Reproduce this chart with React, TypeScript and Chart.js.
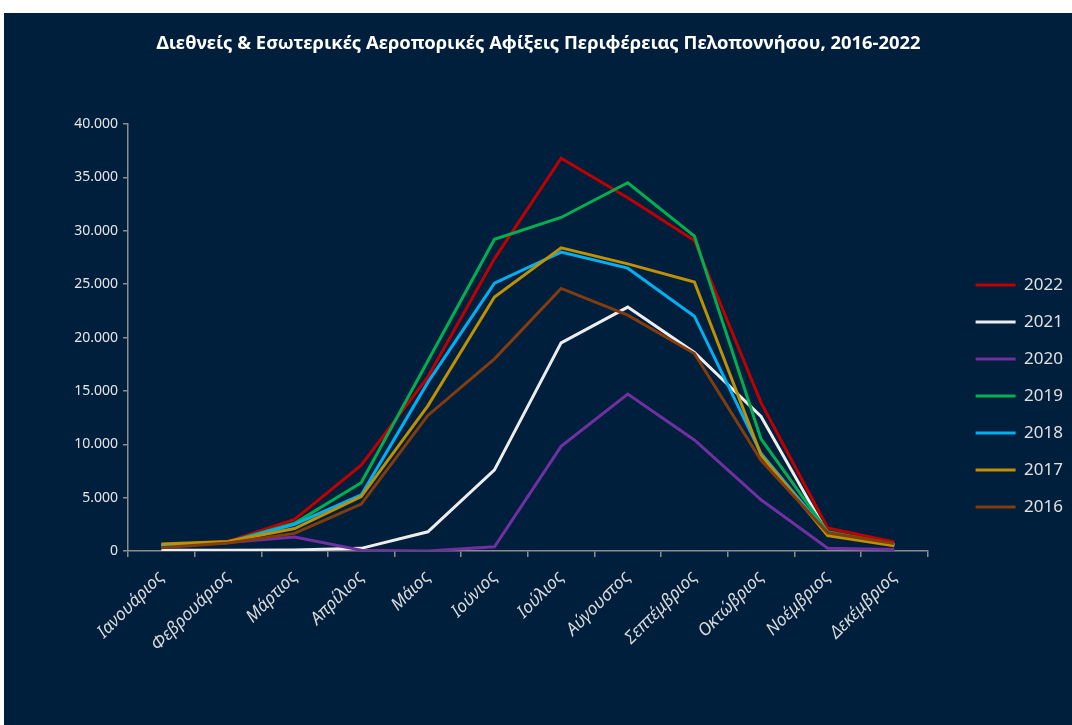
import React, { useEffect, useRef } from 'react';
import { Chart, registerables } from 'chart.js';
Chart.register(...registerables);

const months = ['Ιανουάριος', 'Φεβρουάριος', 'Μάρτιος', 'Απρίλιος', 'Μάιος', 'Ιούνιος', 'Ιούλιος', 'Αύγουστος', 'Σεπτέμβριος', 'Οκτώβριος', 'Νοέμβριος', 'Δεκέμβριος'];

const v2016 = [300, 750, 1650, 4400, 12700, 18000, 24600, 22100, 18500, 8500, 1700, 700];
const v2017 = [650, 900, 2100, 5100, 13600, 23800, 28400, 26900, 25200, 9000, 1450, 500];
const v2018 = [500, 800, 2500, 5250, 15800, 25100, 28000, 26500, 22000, 9150, 1650, 550];
const v2019 = [550, 850, 2600, 6400, 17800, 29200, 31250, 34500, 29500, 10500, 1800, 600];
const v2020 = [500, 800, 1300, 80, 0, 400, 9800, 14700, 10400, 4800, 250, 150];
const v2021 = [80, 60, 100, 250, 1800, 7600, 19500, 22850, 18600, 12600, 1600, 600];
const v2022 = [500, 900, 2950, 8050, 16300, 27400, 36800, 33100, 29100, 13900, 2150, 850];

const yearLabels = ['2016', '2017', '2018', '2019', '2020', '2021', '2022'];
const yearValues = [v2016, v2017, v2018, v2019, v2020, v2021, v2022];
const yearColors = ['#843C0C', '#BF9000', '#00B0F0', '#00B050', '#7030A0', '#EDEDED', '#C00000'];

const yTickStep = 5000;
const yMax = 40000;

const titleText = 'Διεθνείς & Εσωτερικές Αεροπορικές Αφίξεις Περιφέρειας Πελοποννήσου, 2016-2022';

const FONT = "'Noto Sans', sans-serif";

function fmt(v: number): string {
  return String(v).replace(/\B(?=(\d{3})+(?!\d))/g, '.');
}

export default function App() {
  const ref = useRef<HTMLCanvasElement>(null);
  useEffect(() => {
    document.body.style.margin = '0';
    const canvas = ref.current!;
    const chart = new Chart(canvas, {
      type: 'line',
      data: {
        labels: months,
        datasets: yearLabels.map((y, i) => ({
          label: y,
          data: yearValues[i],
          borderColor: yearColors[i],
          backgroundColor: yearColors[i],
          borderWidth: 3,
          pointRadius: 0,
          tension: 0,
        })),
      },
      options: {
        responsive: false,
        animation: false,
        devicePixelRatio: 1,
        layout: { padding: { left: 0, right: 19, top: 0, bottom: 0 } },
        plugins: {
          title: {
            display: true,
            text: titleText,
            color: '#ffffff',
            font: { family: FONT, size: 18.4, weight: 'bold' },
            padding: { top: 20, bottom: 69 },
          },
          legend: {
            position: 'right',
            reverse: true,
            labels: {
              color: '#e0e0e0',
              font: { family: FONT, size: 17 },
              boxWidth: 40,
              boxHeight: 3,
              padding: 20,
              generateLabels: (c: any) =>
                (Chart.defaults.plugins.legend.labels.generateLabels as any)(c).map((l: any) => ({ ...l, lineWidth: 0 })),
            },
          },
          tooltip: { enabled: false },
        },
        scales: {
          x: {
            offset: true,
            grid: { display: true, offset: true, drawOnChartArea: false, color: '#8c8c8c', tickLength: 6, lineWidth: 1.5 },
            border: { color: '#8c8c8c', width: 1.5 },
            ticks: {
              color: '#d9d9d9',
              font: { family: FONT, size: 17.5, style: 'italic' },
              maxRotation: 45,
              minRotation: 45,
              padding: 10,
              autoSkip: false,
            },
            afterFit: (s: any) => { s.height = 228; },
          },
          y: {
            min: 0,
            max: yMax,
            ticks: {
              stepSize: yTickStep,
              color: '#e6e6e6',
              font: { family: FONT, size: 14 },
              padding: 5,
              callback: (v: any) => fmt(Number(v)),
            },
            grid: { drawOnChartArea: false, color: '#8c8c8c', tickLength: 5, lineWidth: 1.5 },
            border: { color: '#8c8c8c', width: 1.5 },
            afterFit: (s: any) => { s.width = 124; },
          },
          y2: {
            type: 'linear',
            position: 'right',
            display: true,
            grid: { display: false },
            border: { display: false },
            ticks: { display: false },
            afterFit: (s: any) => { s.width = 28; },
          },
        },
      } as any,
    });
    return () => chart.destroy();
  }, []);
  return (
    <div style={{ position: 'absolute', left: 4, top: 13, width: 1068, height: 712, background: '#001F3D', overflow: 'hidden' }}>
      <canvas ref={ref} width={1088} height={766} style={{ display: 'block', width: 1088, height: 766 }} />
    </div>
  );
}
